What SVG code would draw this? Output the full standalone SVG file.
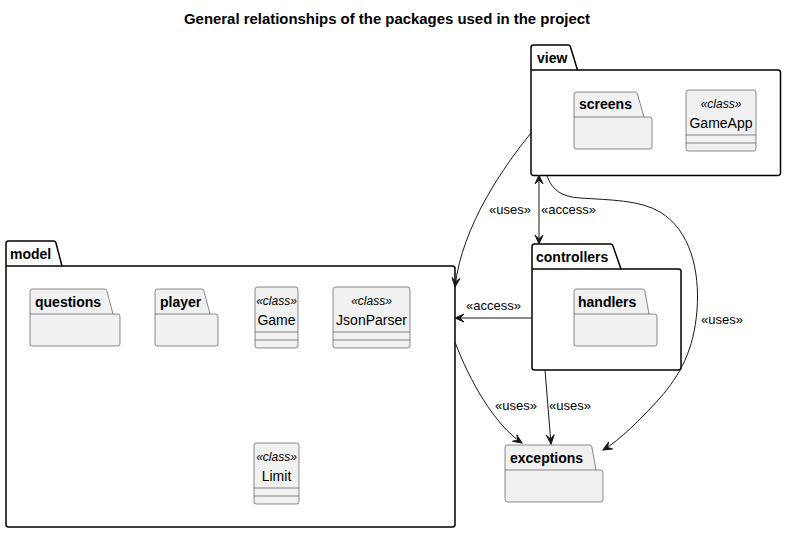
<svg xmlns="http://www.w3.org/2000/svg" width="786" height="534" viewBox="0 0 786 534">
<style>
text{font-family:"Liberation Sans",Arial,sans-serif;fill:#000}
.title{font-size:14px;font-weight:bold}
.pk{font-size:14px;font-weight:bold}
.st{font-size:12px;font-style:italic}
.cn{font-size:14px}
.lb{font-size:13px}
.outer{fill:#FFFFFF;stroke:#000000;stroke-width:1.5}
.inner{fill:#F1F1F1;stroke:#181818;stroke-width:0.5}
.sep{fill:none;stroke:#181818;stroke-width:0.5}
.osep{fill:none;stroke:#000000;stroke-width:1.5}
.edge{fill:none;stroke:#181818;stroke-width:1}
</style>
<defs>
<marker id="ah" viewBox="-10 -5 11 10" refX="0" refY="0" markerWidth="11" markerHeight="10" markerUnits="userSpaceOnUse" orient="auto-start-reverse">
<path d="M0,0 L-9,-4 L-5,0 L-9,4 Z" fill="#181818" stroke="#181818" stroke-width="1"/>
</marker>
</defs>
<rect width="786" height="534" fill="#FFFFFF"/>
<text class="title" x="387" y="24" text-anchor="middle" textLength="406" lengthAdjust="spacingAndGlyphs">General relationships of the packages used in the project</text>

<g id="view">
<path class="outer" d="M533.5,45 L568,45 A2.5,2.5 0 0 1 570.4,46.8 L577.5,70 L778,70 A2.5,2.5 0 0 1 780.5,72.5 L780.5,173 A2.5,2.5 0 0 1 778,175.5 L533.5,175.5 A2.5,2.5 0 0 1 531,173 L531,47.5 A2.5,2.5 0 0 1 533.5,45 Z"/>
<path class="osep" d="M531,70 L577.5,70"/>
<text class="pk" x="537" y="63">view</text>
</g>
<g id="screens">
<path class="inner" d="M576.5,92 L635,92 A2.5,2.5 0 0 1 637.4,93.8 L644,117 L649.5,117 A2.5,2.5 0 0 1 652,119.5 L652,146.5 A2.5,2.5 0 0 1 649.5,149 L576.5,149 A2.5,2.5 0 0 1 574,146.5 L574,94.5 A2.5,2.5 0 0 1 576.5,92 Z"/>
<path class="sep" d="M574,117 L644,117"/>
<text class="pk" x="579" y="109">screens</text>
</g>
<g id="GameApp">
<rect class="inner" x="686" y="90" width="70" height="61" rx="2.5"/>
<path class="sep" d="M686,135 L756,135 M686,143 L756,143"/>
<text class="st" x="721" y="108" text-anchor="middle">«class»</text>
<text class="cn" x="721" y="128" text-anchor="middle">GameApp</text>
</g>

<g id="model">
<path class="outer" d="M8.5,241 L53.5,241 A2.5,2.5 0 0 1 55.9,242.8 L62,266 L452.5,266 A2.5,2.5 0 0 1 455,268.5 L455,524.5 A2.5,2.5 0 0 1 452.5,527 L8.5,527 A2.5,2.5 0 0 1 6,524.5 L6,243.5 A2.5,2.5 0 0 1 8.5,241 Z"/>
<path class="osep" d="M6,266 L62,266"/>
<text class="pk" x="10" y="259">model</text>
</g>
<g id="questions">
<path class="inner" d="M32.5,289 L104.5,289 A2.5,2.5 0 0 1 106.9,290.8 L113,314 L117.5,314 A2.5,2.5 0 0 1 120,316.5 L120,343.5 A2.5,2.5 0 0 1 117.5,346 L32.5,346 A2.5,2.5 0 0 1 30,343.5 L30,291.5 A2.5,2.5 0 0 1 32.5,289 Z"/>
<path class="sep" d="M30,314 L113,314"/>
<text class="pk" x="35" y="307">questions</text>
</g>
<g id="player">
<path class="inner" d="M157.5,289 L201.5,289 A2.5,2.5 0 0 1 203.9,290.8 L210,314 L215.5,314 A2.5,2.5 0 0 1 218,316.5 L218,343.5 A2.5,2.5 0 0 1 215.5,346 L157.5,346 A2.5,2.5 0 0 1 155,343.5 L155,291.5 A2.5,2.5 0 0 1 157.5,289 Z"/>
<path class="sep" d="M155,314 L210,314"/>
<text class="pk" x="160" y="307">player</text>
</g>
<g id="Game">
<rect class="inner" x="255" y="287" width="43" height="61" rx="2.5"/>
<path class="sep" d="M255,332 L298,332 M255,340 L298,340"/>
<text class="st" x="276.5" y="305" text-anchor="middle">«class»</text>
<text class="cn" x="276.5" y="325" text-anchor="middle">Game</text>
</g>
<g id="JsonParser">
<rect class="inner" x="333" y="287" width="77" height="61" rx="2.5"/>
<path class="sep" d="M333,332 L410,332 M333,340 L410,340"/>
<text class="st" x="371.5" y="305" text-anchor="middle">«class»</text>
<text class="cn" x="371.5" y="325" text-anchor="middle">JsonParser</text>
</g>
<g id="Limit">
<rect class="inner" x="254" y="443" width="45" height="61" rx="2.5"/>
<path class="sep" d="M254,488 L299,488 M254,496 L299,496"/>
<text class="st" x="276.5" y="461" text-anchor="middle">«class»</text>
<text class="cn" x="276.5" y="481" text-anchor="middle">Limit</text>
</g>

<g id="controllers">
<path class="outer" d="M534.5,244 L610.5,244 A2.5,2.5 0 0 1 612.9,245.8 L621,269 L678.5,269 A2.5,2.5 0 0 1 681,271.5 L681,367.5 A2.5,2.5 0 0 1 678.5,370 L534.5,370 A2.5,2.5 0 0 1 532,367.5 L532,246.5 A2.5,2.5 0 0 1 534.5,244 Z"/>
<path class="osep" d="M532,269 L621,269"/>
<text class="pk" x="536" y="262">controllers</text>
</g>
<g id="handlers">
<path class="inner" d="M576.5,289 L642.5,289 A2.5,2.5 0 0 1 644.9,290.8 L649,314 L654.5,314 A2.5,2.5 0 0 1 657,316.5 L657,343.5 A2.5,2.5 0 0 1 654.5,346 L576.5,346 A2.5,2.5 0 0 1 574,343.5 L574,291.5 A2.5,2.5 0 0 1 576.5,289 Z"/>
<path class="sep" d="M574,314 L649,314"/>
<text class="pk" x="578" y="307">handlers</text>
</g>

<g id="exceptions">
<path class="inner" d="M507.5,445 L589.5,445 A2.5,2.5 0 0 1 591.9,446.8 L596,470 L600.5,470 A2.5,2.5 0 0 1 603,472.5 L603,499.5 A2.5,2.5 0 0 1 600.5,502 L507.5,502 A2.5,2.5 0 0 1 505,499.5 L505,447.5 A2.5,2.5 0 0 1 507.5,445 Z"/>
<path class="sep" d="M505,470 L596,470"/>
<text class="pk" x="510" y="463">exceptions</text>
</g>

<g id="connectors">
<path class="edge" d="M531,133 C505,165 462,225 455,287" marker-end="url(#ah)"/>
<text class="lb" x="489" y="214">«uses»</text>
<path class="edge" d="M539,175 L539,244" marker-start="url(#ah)" marker-end="url(#ah)"/>
<text class="lb" x="541" y="214">«access»</text>
<path class="edge" d="M547,176 C552,190 562,197 580,198 C610,200 640,200 660,212 C690,230 700,270 697,310 C694,350 680,375 660,398 C640,420 620,440 603,450" marker-end="url(#ah)"/>
<text class="lb" x="701" y="324">«uses»</text>
<path class="edge" d="M532,318 L455,318" marker-end="url(#ah)"/>
<text class="lb" x="466" y="310">«access»</text>
<path class="edge" d="M455,342 C470,382 495,425 522,443" marker-end="url(#ah)"/>
<text class="lb" x="495" y="410">«uses»</text>
<path class="edge" d="M545,370 L551,444" marker-end="url(#ah)"/>
<text class="lb" x="549" y="410">«uses»</text>
</g>
</svg>
